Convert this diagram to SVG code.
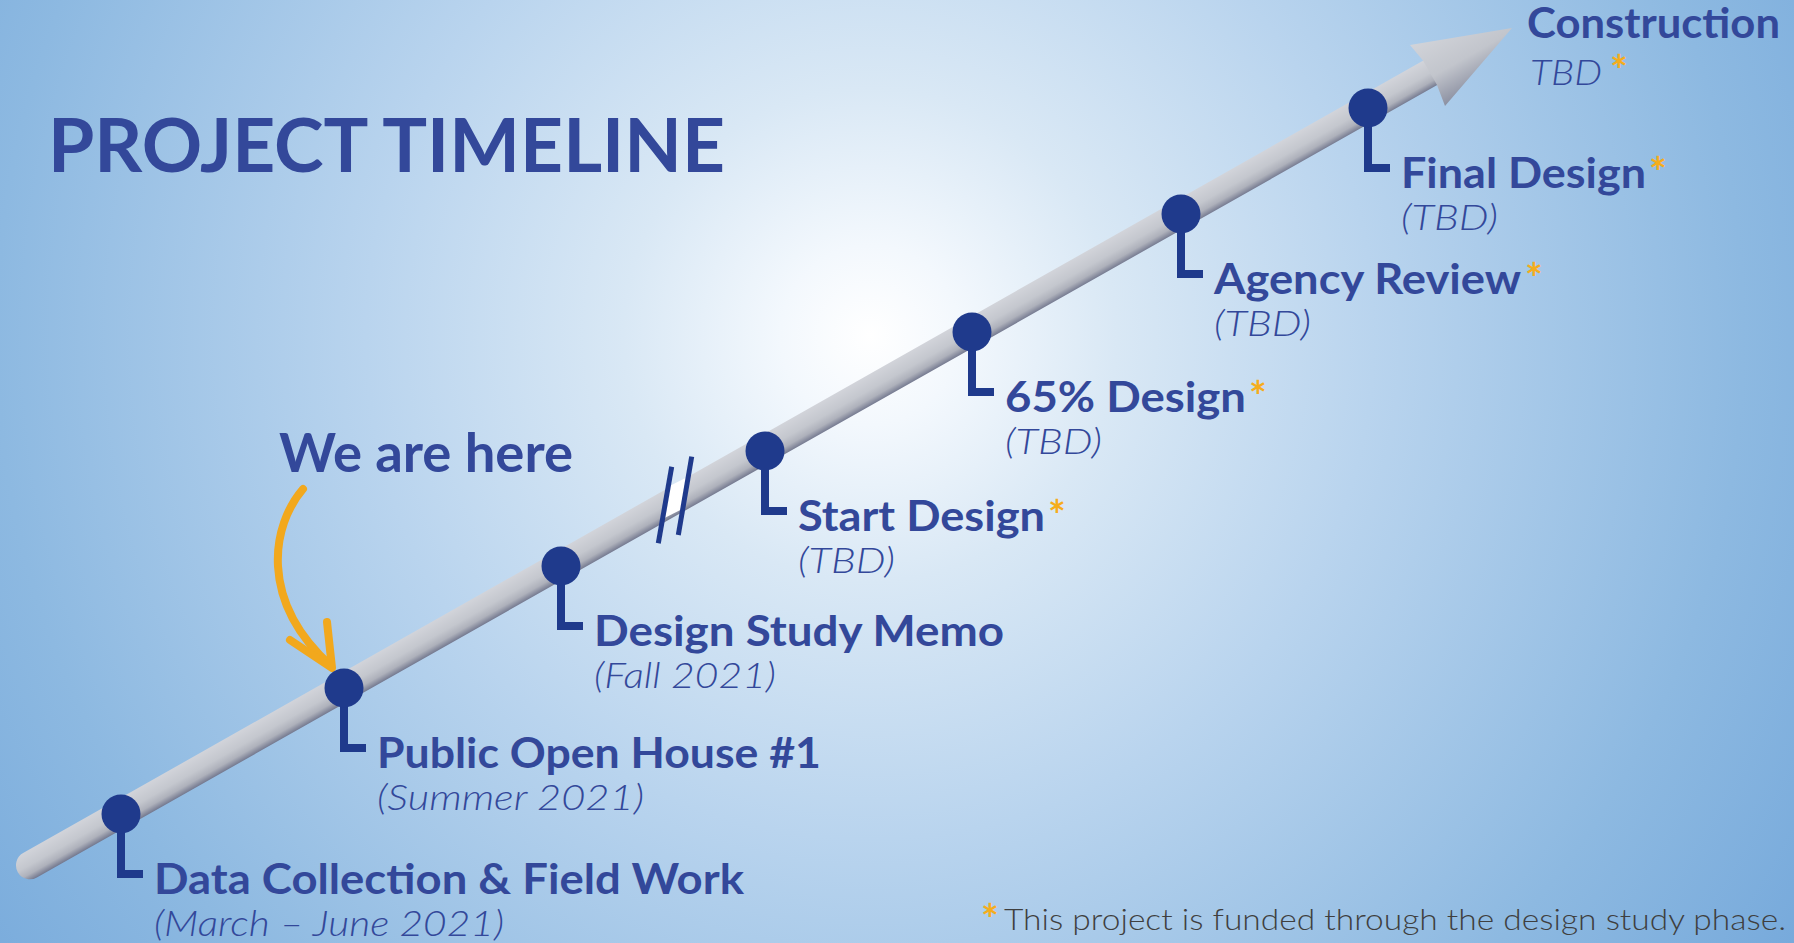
<svg xmlns="http://www.w3.org/2000/svg" width="1794" height="943" viewBox="0 0 1794 943">
<defs>
<radialGradient id="bg" gradientUnits="userSpaceOnUse" cx="870" cy="335" r="1120">
<stop offset="0" stop-color="#ffffff"/>
<stop offset="0.08" stop-color="#f3f8fd"/>
<stop offset="0.22" stop-color="#d9e8f5"/>
<stop offset="0.45" stop-color="#b9d4ee"/>
<stop offset="0.78" stop-color="#8db9e1"/>
<stop offset="1" stop-color="#76a9db"/>
</radialGradient>
<linearGradient id="shaft" gradientUnits="userSpaceOnUse" x1="693.1" y1="473.7" x2="706.9" y2="498.1">
<stop offset="0" stop-color="#d2d4da"/>
<stop offset="0.5" stop-color="#c4c7ce"/>
<stop offset="0.78" stop-color="#aeb1bb"/>
<stop offset="1" stop-color="#767b91"/>
</linearGradient>
<linearGradient id="head" gradientUnits="userSpaceOnUse" x1="1418" y1="28" x2="1462" y2="106">
<stop offset="0" stop-color="#d6d8dd"/>
<stop offset="0.55" stop-color="#c2c5cc"/>
<stop offset="1" stop-color="#7d8296"/>
</linearGradient>
<style>
.lbl{font-family:Lato,"Liberation Sans",sans-serif;font-weight:700;font-size:42px;fill:#33489a}
.sub{font-family:Lato,"Liberation Sans",sans-serif;font-weight:300;font-style:italic;font-size:35px;fill:#33489a}
.ast{font-family:Lato,"Liberation Sans",sans-serif;font-weight:700;font-style:normal;font-size:42px;fill:#f5ad1c}
.dot{fill:#1f3a8c}
.stem{fill:none;stroke:#1f3a8c;stroke-width:8;stroke-linejoin:miter}
</style>
</defs>
<rect width="1794" height="943" fill="url(#bg)"/>
<text x="48" y="172" font-family="Lato,'Liberation Sans',sans-serif" font-weight="700" font-size="75" fill="#33489a" textLength="677" lengthAdjust="spacingAndGlyphs">PROJECT TIMELINE</text>

<g id="connectors">
<line x1="30" y1="865.3" x2="1440" y2="67.2" stroke="url(#shaft)" stroke-width="28" stroke-linecap="round"/>
<polygon points="1512,28 1410,45 1423,60.6 1437,85 1445,106" fill="url(#head)"/>
<g id="break">
<polygon points="668.2,486.8 688.3,476.6 682.8,508.8 662.5,519" fill="#ffffff"/>
<line x1="671.7" y1="466.7" x2="658.3" y2="543.3" stroke="#1f3a8c" stroke-width="5"/>
<line x1="691.7" y1="456.7" x2="678.3" y2="535" stroke="#1f3a8c" stroke-width="5"/>
</g>
<g id="here-arrow" fill="none" stroke="#f2a81d" stroke-width="8" stroke-linecap="round" stroke-linejoin="round">
<path d="M303,489 C272,525 258,600 331,666"/>
<path d="M290,640 L332,668 L327,622"/>
</g>
</g>

<g id="we-are-here">
<text x="279" y="472" font-family="Lato,'Liberation Sans',sans-serif" font-weight="700" font-size="54" fill="#33489a" textLength="294" lengthAdjust="spacingAndGlyphs">We are here</text>
</g>

<g id="n-data">
<path class="stem" d="M121,814 V874 H143"/>
<circle class="dot" cx="121" cy="814" r="19.5"/>
<text class="lbl" x="154" y="894" textLength="590" lengthAdjust="spacingAndGlyphs">Data Collection &amp; Field Work</text>
<text class="sub" x="154" y="936" textLength="350" lengthAdjust="spacingAndGlyphs">(March – June 2021)</text>
</g>
<g id="n-openhouse">
<path class="stem" d="M344,688 V748 H366"/>
<circle class="dot" cx="344" cy="688" r="19.5"/>
<text class="lbl" x="377" y="768" textLength="444" lengthAdjust="spacingAndGlyphs">Public Open House #1</text>
<text class="sub" x="377" y="810" textLength="267" lengthAdjust="spacingAndGlyphs">(Summer 2021)</text>
</g>
<g id="n-memo">
<path class="stem" d="M561,566 V626 H583"/>
<circle class="dot" cx="561" cy="566" r="19.5"/>
<text class="lbl" x="594" y="646" textLength="410" lengthAdjust="spacingAndGlyphs">Design Study Memo</text>
<text class="sub" x="594" y="688" textLength="182" lengthAdjust="spacingAndGlyphs">(Fall 2021)</text>
</g>
<g id="n-start">
<path class="stem" d="M765,451 V511 H787"/>
<circle class="dot" cx="765" cy="451" r="19.5"/>
<text class="lbl" x="798" y="531"><tspan textLength="247" lengthAdjust="spacingAndGlyphs">Start Design</tspan><tspan class="ast" x="1048">*</tspan></text>
<text class="sub" x="798" y="573" textLength="97" lengthAdjust="spacingAndGlyphs">(TBD)</text>
</g>
<g id="n-65">
<path class="stem" d="M972,332 V392 H994"/>
<circle class="dot" cx="972" cy="332" r="19.5"/>
<text class="lbl" x="1005" y="412"><tspan textLength="241" lengthAdjust="spacingAndGlyphs">65% Design</tspan><tspan class="ast" x="1249">*</tspan></text>
<text class="sub" x="1005" y="454" textLength="97" lengthAdjust="spacingAndGlyphs">(TBD)</text>
</g>
<g id="n-agency">
<path class="stem" d="M1181,214 V274 H1203"/>
<circle class="dot" cx="1181" cy="214" r="19.5"/>
<text class="lbl" x="1214" y="294"><tspan textLength="307" lengthAdjust="spacingAndGlyphs">Agency Review</tspan><tspan class="ast" x="1525">*</tspan></text>
<text class="sub" x="1214" y="336" textLength="97" lengthAdjust="spacingAndGlyphs">(TBD)</text>
</g>
<g id="n-final">
<path class="stem" d="M1368,108 V168 H1390"/>
<circle class="dot" cx="1368" cy="108" r="19.5"/>
<text class="lbl" x="1401" y="188"><tspan textLength="245" lengthAdjust="spacingAndGlyphs">Final Design</tspan><tspan class="ast" x="1649">*</tspan></text>
<text class="sub" x="1401" y="230" textLength="97" lengthAdjust="spacingAndGlyphs">(TBD)</text>
</g>
<g id="n-construction">
<text class="lbl" x="1527" y="38" textLength="253" lengthAdjust="spacingAndGlyphs">Construction</text>
<text class="sub" x="1530" y="85"><tspan textLength="72" lengthAdjust="spacingAndGlyphs">TBD</tspan><tspan class="ast" x="1610" dy="1" font-size="38">*</tspan></text>
</g>

<g id="footnote">
<text x="981" y="930" font-family="Lato,'Liberation Sans',sans-serif" font-weight="300" font-size="30" fill="#3f3f3f"><tspan class="ast" font-size="34" dy="5">*</tspan><tspan x="1004" dy="-5" textLength="782" lengthAdjust="spacingAndGlyphs">This project is funded through the design study phase.</tspan></text>
</g>
</svg>
